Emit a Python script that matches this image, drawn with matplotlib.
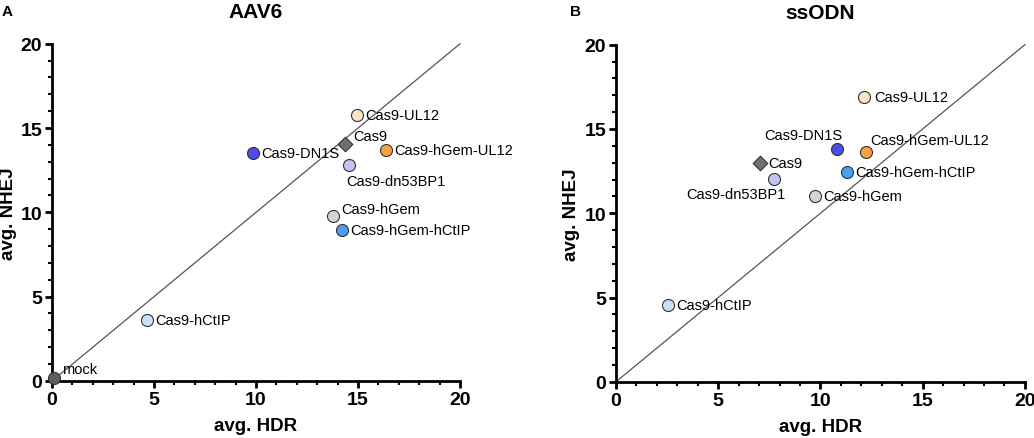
import numpy as np
import matplotlib.pyplot as plt
from matplotlib.ticker import MultipleLocator

plt.rcParams['font.family'] = ['Liberation Sans', 'DejaVu Sans']

# sample names, shared by both panels
names = ['mock', 'Cas9', 'Cas9-hCtIP', 'Cas9-DN1S', 'Cas9-UL12', 'Cas9-hGem-UL12',
         'Cas9-dn53BP1', 'Cas9-hGem', 'Cas9-hGem-hCtIP']
colors = ['#5f5f5f', '#707070', '#c9e1f8', '#4b4bef', '#fde4c6', '#f7a13f',
          '#c3c3f5', '#d4d4d4', '#4a9ef0']
markers = ['o', 'D', 'o', 'o', 'o', 'o', 'o', 'o', 'o']

# AAV6 panel (mock only shown here)
aav_hdr = [0.1, 14.36, 4.66, 9.84, 14.95, 16.37, 14.58, 13.79, 14.23]
aav_nhej = [0.2, 14.04, 3.60, 13.52, 15.78, 13.68, 12.79, 9.80, 8.93]

# ssODN panel (no mock point)
ss_hdr = [None, 7.04, 2.54, 10.81, 12.14, 12.21, 7.73, 9.75, 11.30]
ss_nhej = [None, 12.96, 4.57, 13.79, 16.92, 13.66, 12.02, 11.03, 12.43]

# label offsets in points and alignment
aav_lbl = {
    'mock': ((6, 6), 'left'), 'Cas9': ((6, 6), 'left'), 'Cas9-hCtIP': ((6, 0), 'left'),
    'Cas9-DN1S': ((6, 0), 'left'), 'Cas9-UL12': ((6, 0), 'left'),
    'Cas9-hGem-UL12': ((6, 0), 'left'), 'Cas9-dn53BP1': ((-2, -11), 'left'),
    'Cas9-hGem': ((6, 5), 'left'), 'Cas9-hGem-hCtIP': ((6, 0), 'left'),
}
ss_lbl = {
    'Cas9': ((6, 0), 'left'), 'Cas9-hCtIP': ((6, 0), 'left'),
    'Cas9-DN1S': ((4, 10), 'right'), 'Cas9-UL12': ((7, 0), 'left'),
    'Cas9-hGem-UL12': ((3, 8), 'left'), 'Cas9-dn53BP1': ((8, -11), 'right'),
    'Cas9-hGem': ((6, 0), 'left'), 'Cas9-hGem-hCtIP': ((6, 0), 'left'),
}


def draw_panel(ax, hdr, nhej, lbl, title, ylab_x):
    ax.plot([0, 20], [0, 20], color='#555555', lw=0.9, zorder=1, clip_on=False)
    for n, c, m, x, y in zip(names, colors, markers, hdr, nhej):
        if x is None:
            continue
        ax.scatter(x, y, s=75 if m == 'o' else 55, c=c, marker=m, edgecolors='#333333',
                   linewidths=0.8, zorder=3, clip_on=False)
        off, ha = lbl[n]
        ax.annotate(n, (x, y), xytext=off, textcoords='offset points',
                    ha=ha, va='center', fontsize=10.5, zorder=4)
    ax.set_xlim(0, 20)
    ax.set_ylim(0, 20)
    ax.xaxis.set_major_locator(MultipleLocator(5))
    ax.yaxis.set_major_locator(MultipleLocator(5))
    ax.xaxis.set_minor_locator(MultipleLocator(1))
    ax.yaxis.set_minor_locator(MultipleLocator(1))
    for s in ['top', 'right']:
        ax.spines[s].set_visible(False)
    for s in ['left', 'bottom']:
        ax.spines[s].set_linewidth(2)
    ax.tick_params(which='major', length=5, width=2, labelsize=14, pad=2)
    ax.tick_params(which='minor', length=3, width=1.5)
    for t in ax.get_xticklabels() + ax.get_yticklabels():
        t.set_fontweight('bold')
    ax.set_xlabel('avg. HDR', fontsize=13.5, fontweight='bold')
    ax.set_ylabel('avg. NHEJ', fontsize=13.5, fontweight='bold')
    ax.xaxis.set_label_coords(0.5, -0.107)
    ax.yaxis.set_label_coords(ylab_x, 0.5)
    ax.set_title(title, fontsize=15, fontweight='bold', pad=19)


fig = plt.figure(figsize=(10.34, 4.39), dpi=100)
ax1 = fig.add_axes([0.0503, 0.130, 0.3946, 0.768])
ax2 = fig.add_axes([0.5957, 0.128, 0.3955, 0.768])

draw_panel(ax1, aav_hdr, aav_nhej, aav_lbl, 'AAV6', -0.086)
draw_panel(ax2, ss_hdr, ss_nhej, ss_lbl, 'ssODN', -0.088)

fig.text(0.002, 0.973, 'A', fontsize=11, fontweight='bold', va='center')
fig.text(0.551, 0.973, 'B', fontsize=11, fontweight='bold', va='center')

fig.savefig('out.png', dpi=100)
